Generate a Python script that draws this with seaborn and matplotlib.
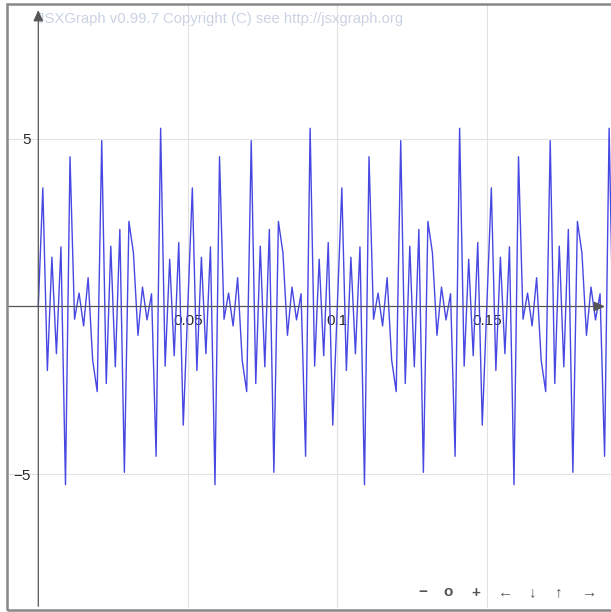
import numpy as np
import pandas as pd
import matplotlib
matplotlib.use("Agg")
import matplotlib.pyplot as plt
import seaborn as sns
from matplotlib.patches import Rectangle

# ---------------- data ----------------
sample_step = 0.05 / 33          # spacing of the polyline vertices (s)
signal = [
    0.00, 3.54, -1.91, 1.47, -1.41, 1.78, -5.32, 4.47, -0.38, 0.40, -0.58,
    0.86, -1.60, -2.54, 4.95, -2.30, 1.80, -1.80, 2.30, -4.95, 2.54, 1.60,
    -0.86, 0.58, -0.40, 0.38, -4.47, 5.32, -1.78, 1.41, -1.47, 1.91, -3.54,
    0.00, 3.54, -1.91, 1.47, -1.41, 1.78, -5.32, 4.47, -0.38, 0.40, -0.58,
    0.86, -1.60, -2.54, 4.95, -2.30, 1.80, -1.80, 2.30, -4.95, 2.54, 1.60,
    -0.86, 0.58, -0.40, 0.38, -4.47, 5.32, -1.78, 1.41, -1.47, 1.91, -3.54,
    0.00, 3.54, -1.91, 1.47, -1.41, 1.78, -5.32, 4.47, -0.38, 0.40, -0.58,
    0.86, -1.60, -2.54, 4.95, -2.30, 1.80, -1.80, 2.30, -4.95, 2.54, 1.60,
    -0.86, 0.58, -0.40, 0.38, -4.47, 5.32, -1.78, 1.41, -1.47, 1.91, -3.54,
    0.00, 3.54, -1.91, 1.47, -1.41, 1.78, -5.32, 4.47, -0.38, 0.40, -0.58,
    0.86, -1.60, -2.54, 4.95, -2.30, 1.80, -1.80, 2.30, -4.95, 2.54, 1.60,
    -0.86, 0.58, -0.40, 0.38, -4.47, 5.32, -1.78,
]
x_major = [0.05, 0.1, 0.15]
x_major_labels = ["0.05", "0.1", "0.15"]
y_major = [-5, 5]
y_major_labels = ["\u22125", "5"]
x_minor = [-0.01, 0.01, 0.02, 0.03, 0.04, 0.06, 0.07, 0.08, 0.09,
           0.11, 0.12, 0.13, 0.14, 0.16, 0.17, 0.18, 0.19]
y_minor = [-9, -8, -7, -6, -4, -3, -2, -1, 1, 2, 3, 4, 6, 7, 8, 9]
copyright_text = "JSXGraph v0.99.7 Copyright (C) see http://jsxgraph.org"
nav_labels = ["\u2212", "o", "+", "\u2190", "\u2193", "\u2191", "\u2192"]

time = np.arange(len(signal)) * sample_step
df = pd.DataFrame({"t": time, "v": signal})

# ---------------- style ----------------
sns.set_theme(style="white")
plt.rcParams["font.family"] = ["Liberation Sans", "DejaVu Sans"]
plt.rcParams["axes.unicode_minus"] = True

W, H = 611, 612
fig = plt.figure(figsize=(W / 100, H / 100), dpi=100)
fig.patch.set_facecolor("white")

# pixel geometry of the board
X0PX, XSCALE = 38.3, 2990.0   # pixel of x=0, pixels per unit
Y0PX, YSCALE = 307.3, 33.6    # pixel of y=0, pixels per unit
L, R, T, B = 8, 611, 5, 608
ax = fig.add_axes([L / W, (H - B) / H, (R - L) / W, (B - T) / H])
ax.set_facecolor("white")
xlo, xhi = (L - X0PX) / XSCALE, (R - X0PX) / XSCALE
ylo, yhi = (Y0PX - B) / YSCALE, (Y0PX - T) / YSCALE
ax.set_xlim(xlo, xhi)
ax.set_ylim(ylo, yhi)

# grid (major ticks of JSXGraph are full lines)
ax.set_xticks(x_major)
ax.set_xticklabels(x_major_labels)
ax.set_yticks(y_major)
ax.set_yticklabels(y_major_labels)
ax.set_xticks(x_minor, minor=True)
ax.set_yticks(y_minor, minor=True)
ax.grid(True, which="major", color="#e2e2e2", lw=0.8, zorder=0)
ax.set_axisbelow(True)

for s in ["top", "right"]:
    ax.spines[s].set_visible(False)
ax.spines["left"].set_position(("data", 0))
ax.spines["bottom"].set_position(("data", 0))
ax.spines["left"].set_visible(False)
ax.spines["bottom"].set_visible(False)

ax.tick_params(which="major", length=0, pad=5.5, labelsize=11,
               labelcolor="#2a2a2a")
ax.tick_params(which="minor", length=6, width=0.8, direction="inout",
               color="#d0d0d0")

# the curve
sns.lineplot(data=df, x="t", y="v", ax=ax, color="#4747e2", lw=1.0,
             estimator=None, sort=False, zorder=3)
ax.set_xlabel("")
ax.set_ylabel("")

# axes with arrows
x_tip = (605 - X0PX) / XSCALE
y_tip = (Y0PX - 10) / YSCALE
arrow_kw = dict(arrowstyle="-|>,head_length=0.55,head_width=0.25",
                color="#555555", lw=0.9, shrinkA=0, shrinkB=0)
ax.annotate("", xy=(0, y_tip), xytext=(0, ylo), arrowprops=arrow_kw,
            zorder=4, annotation_clip=False)
ax.annotate("", xy=(x_tip, 0), xytext=(xlo, 0), arrowprops=arrow_kw,
            zorder=4, annotation_clip=False)

# copyright text, fitted to its width in the picture
ct = ax.text(37 / W, 1 - 19 / H, copyright_text, transform=fig.transFigure,
             color="#cad3e4", fontsize=10, ha="left", va="center", zorder=1)
fig.canvas.draw()
w = ct.get_window_extent().width
ct.set_fontsize(10 * 367 / w)

# navigation bar
nav_x = [423, 448, 476, 506, 533, 559, 590]
for lab, px in zip(nav_labels, nav_x):
    fig.text(px / W, 1 - 592.5 / H, lab, ha="center", va="center",
             fontsize=11, color="#555555", fontweight="bold")

# board frame
fig.add_artist(Rectangle((7 / W, (H - 609.5) / H), (660 - 7) / W,
                         (609.5 - 4) / H, transform=fig.transFigure,
                         fill=False, edgecolor="#888888", lw=1.8))

fig.savefig("out.png", dpi=100)
